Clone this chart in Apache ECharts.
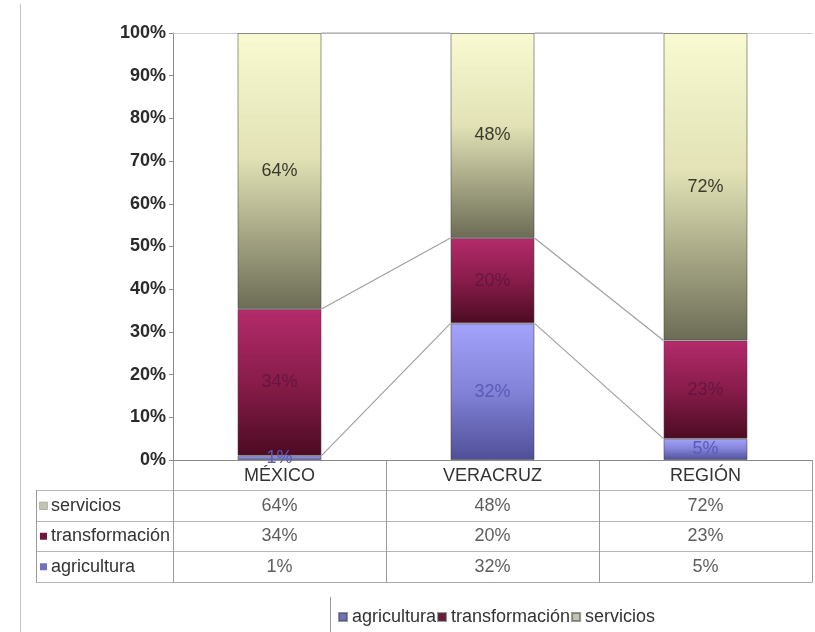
<!DOCTYPE html>
<html>
<head>
<meta charset="utf-8">
<script src="https://cdn.jsdelivr.net/npm/echarts@6/dist/echarts.min.js"></script>
<style>
  html, body { margin: 0; padding: 0; background: #ffffff; }
  #chart { width: 815px; height: 632px; }
</style>
</head>
<body>
<div id="chart"></div>
<script>
// Employment share by sector (percent)
const categories = ['MÉXICO', 'VERACRUZ', 'REGIÓN'];
const agricultura = [1, 32, 5];
const transformacion = [34, 20, 23];
const servicios = [64, 48, 72];
const seriesNames = ['agricultura', 'transformación', 'servicios'];
const tableRows = ['servicios', 'transformación', 'agricultura'];

const FONT = '"Liberation Sans", Arial, sans-serif';
const FS = 18;
const BAR_W = 84;

// 100% stacking: each column is scaled to its own total
const totals = categories.map((_, i) => agricultura[i] + transformacion[i] + servicios[i]);
const share = arr => arr.map((v, i) => v / totals[i] * 100);
const levels = [agricultura, transformacion, servicios];
const cumulative = levels.map((_, li) =>
  categories.map((_, i) => {
    let s = 0;
    for (let k = 0; k <= li; k++) s += levels[k][i];
    return s / totals[i] * 100;
  })
);

const grad = stops => ({
  type: 'linear', x: 0, y: 0, x2: 0, y2: 1,
  colorStops: stops.map(([o, c]) => ({ offset: o, color: c }))
});
const fills = {
  agricultura: grad([[0, '#a3a3fb'], [0.5, '#8282d8'], [1, '#4f4f98']]),
  transformacion: grad([[0, '#b42b6b'], [0.5, '#881c4a'], [1, '#4c0b22']]),
  servicios: grad([[0, '#fafad2'], [0.45, '#e2e2b6'], [1, '#6c6c56']])
};
const keyColors = {
  agricultura: '#7070bb',
  transformacion: '#6e1a3c',
  servicios: '#c4c4b4'
};

const barLabel = (raw, color) => ({
  show: true,
  position: 'inside',
  fontFamily: FONT,
  fontSize: FS,
  color: color,
  formatter: p => raw[p.dataIndex] + '%'
});

const barSeries = (name, raw, fill, labelColor) => ({
  name: name,
  type: 'bar',
  stack: 'total',
  xAxisIndex: 0,
  yAxisIndex: 0,
  barWidth: BAR_W,
  data: share(raw),
  itemStyle: { color: fill, borderColor: 'rgba(70,70,70,0.55)', borderWidth: 1 },
  label: barLabel(raw, labelColor),
  emphasis: { disabled: true }
});

// Table cells: [column, row, value]; row 0 is the header row
const tableData = [];
tableRows.forEach((r, ri) => {
  const src = r === 'servicios' ? servicios : (r === 'transformación' ? transformacion : agricultura);
  src.forEach((v, ci) => tableData.push([ci, ri + 1, v]));
});

const keyRich = ['ks', 'kt', 'ka'];

const option = {
  backgroundColor: '#ffffff',
  animation: false,
  textStyle: { fontFamily: FONT },
  grid: [
    { left: 173, right: 3, top: 33, bottom: 172 },
    { left: 173, right: 3, top: 460, height: 122 },
    { left: 36, width: 137, top: 490.5, height: 91.5 }
  ],
  xAxis: [
    {
      gridIndex: 0, type: 'category', data: categories, position: 'bottom',
      axisLine: { lineStyle: { color: '#8a8a8a' } },
      axisTick: { show: false },
      axisLabel: { fontFamily: FONT, fontSize: FS, color: '#333', margin: 7 }
    },
    {
      gridIndex: 0, type: 'category', data: categories, position: 'top',
      axisLine: { lineStyle: { color: '#cccccc' } },
      axisTick: { show: false }, axisLabel: { show: false }
    },
    {
      gridIndex: 1, type: 'category', data: categories, position: 'bottom',
      axisLine: { lineStyle: { color: '#aaaaaa' } },
      axisTick: { show: false }, axisLabel: { show: false },
      splitLine: { show: true, lineStyle: { color: '#9a9a9a' } }
    },
    {
      gridIndex: 2, type: 'value', show: false, min: 0, max: 1
    }
  ],
  yAxis: [
    {
      gridIndex: 0, type: 'value', min: 0, max: 100, interval: 10,
      axisLine: { show: true, lineStyle: { color: '#8a8a8a' } },
      axisTick: { show: true, length: 4, lineStyle: { color: '#8a8a8a' } },
      splitLine: { show: false },
      axisLabel: {
        fontFamily: FONT, fontSize: FS, fontWeight: 'bold', color: '#2a2a2a', margin: 7,
        formatter: '{value}%'
      }
    },
    {
      gridIndex: 1, type: 'category', inverse: true,
      data: [''].concat(tableRows),
      axisLine: { show: true, lineStyle: { color: '#9a9a9a' } },
      axisTick: { show: false }, axisLabel: { show: false },
      splitLine: { show: true, lineStyle: { color: '#b5b5b5' } }
    },
    {
      gridIndex: 2, type: 'category', inverse: true, data: tableRows,
      axisLine: { show: true, lineStyle: { color: '#9a9a9a' } },
      axisTick: { show: false },
      splitLine: { show: true, lineStyle: { color: '#b5b5b5' } },
      axisLabel: {
        inside: true, margin: 4,
        formatter: (v, i) => '{' + keyRich[i] + '|}{t|' + v + '}',
        rich: {
          ks: { width: 7, height: 7, backgroundColor: keyColors.servicios, borderColor: '#888', borderWidth: 0.6 },
          kt: { width: 7, height: 7, backgroundColor: keyColors.transformacion },
          ka: { width: 7, height: 7, backgroundColor: keyColors.agricultura },
          t: { fontFamily: FONT, fontSize: FS, color: '#333', padding: [0, 0, 0, 4] }
        }
      }
    }
  ],
  legend: {
    left: 333, top: 603,
    itemWidth: 8, itemHeight: 8, itemGap: 1,
    icon: 'rect',
    textStyle: { fontFamily: FONT, fontSize: FS, color: '#333' },
    data: [
      { name: 'agricultura', itemStyle: { color: keyColors.agricultura } },
      { name: 'transformación', itemStyle: { color: keyColors.transformacion } },
      { name: 'servicios', itemStyle: { color: keyColors.servicios } }
    ],
    selectedMode: false
  },
  graphic: [
    { type: 'line', shape: { x1: 20.5, y1: 4, x2: 20.5, y2: 632 }, style: { stroke: '#c4c4c4', lineWidth: 1 }, silent: true },
    { type: 'line', shape: { x1: 330.5, y1: 597, x2: 330.5, y2: 632 }, style: { stroke: '#9a9a9a', lineWidth: 1 }, silent: true }
  ],
  series: [
    barSeries('agricultura', agricultura, fills.agricultura, '#5a5ab8'),
    barSeries('transformación', transformacion, fills.transformacion, 'rgba(75,15,55,0.55)'),
    barSeries('servicios', servicios, fills.servicios, '#3a3a2c'),
    {
      // series lines joining the segment tops of neighbouring columns
      name: 'conectores',
      type: 'custom',
      xAxisIndex: 0, yAxisIndex: 0,
      data: categories.slice(0, -1).map((_, i) => [i]),
      encode: { x: 0 },
      silent: true,
      z: 1,
      renderItem: (params, api) => {
        const i = api.value(0);
        const half = BAR_W / 2;
        return {
          type: 'group',
          children: cumulative.map(cum => {
            const a = api.coord([i, cum[i]]);
            const b = api.coord([i + 1, cum[i + 1]]);
            return {
              type: 'line',
              shape: { x1: a[0] + half, y1: a[1], x2: b[0] - half, y2: b[1] },
              style: { stroke: '#a0a0a0', lineWidth: 1.2 }
            };
          })
        };
      }
    },
    {
      name: 'tabla',
      type: 'scatter',
      xAxisIndex: 2, yAxisIndex: 1,
      symbolSize: 1,
      itemStyle: { color: 'rgba(0,0,0,0)' },
      silent: true,
      data: tableData,
      label: {
        show: true, position: 'inside',
        fontFamily: FONT, fontSize: FS, color: '#333',
        formatter: p => p.value[2] + '%'
      }
    }
  ]
};

const chart = echarts.init(document.getElementById('chart'), null, { renderer: 'canvas' });
chart.setOption(option);
</script>
</body>
</html>
